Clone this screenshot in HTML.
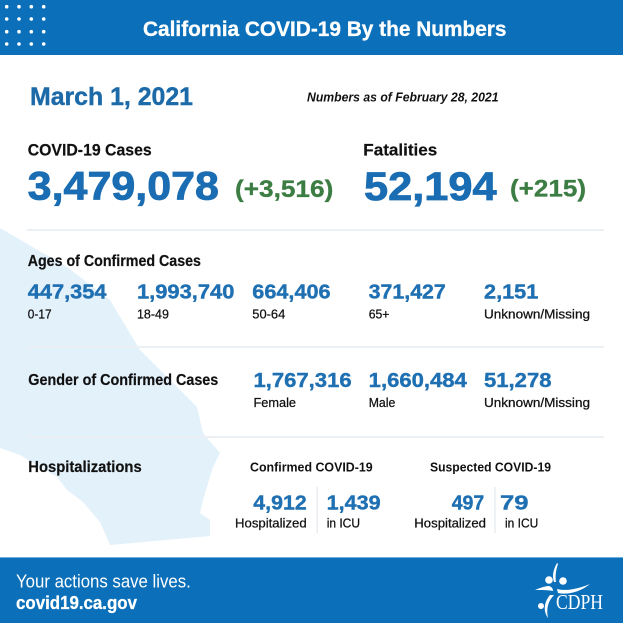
<!DOCTYPE html>
<html><head><meta charset="utf-8"><style>
html,body{margin:0;padding:0;background:#fff;}
svg{display:block;}
</style></head><body>
<svg width="623" height="623" viewBox="0 0 623 623" xmlns="http://www.w3.org/2000/svg" font-family="'Liberation Sans',sans-serif">
<rect x="0" y="0" width="623" height="623" fill="#ffffff"/>
<!-- map silhouette -->
<polygon fill="#e3f1fb" points="0,228 67,267 110,300 140,350 167,377 197,407 203,433 220,453 213,467 203,500 200,513 210,520 210,536 110,545 100,522 83,502 67,490 57,477 20,455 0,448"/>
<!-- header -->
<rect x="0" y="0" width="623" height="55" fill="#0b6fb9"/>
<g fill="#ffffff">
<circle cx="6.7" cy="6.7" r="1.8"/><circle cx="19" cy="6.7" r="1.8"/><circle cx="31.3" cy="6.7" r="1.8"/><circle cx="43.7" cy="6.7" r="1.8"/>
<circle cx="6.7" cy="19" r="1.8"/><circle cx="19" cy="19" r="1.8"/><circle cx="31.3" cy="19" r="1.8"/><circle cx="43.7" cy="19" r="1.8"/>
<circle cx="6.7" cy="31.7" r="1.8"/><circle cx="19" cy="31.7" r="1.8"/><circle cx="31.3" cy="31.7" r="1.8"/><circle cx="43.7" cy="31.7" r="1.8"/>
<circle cx="6.7" cy="44" r="1.8"/><circle cx="19" cy="44" r="1.8"/><circle cx="31.3" cy="44" r="1.8"/><circle cx="43.7" cy="44" r="1.8"/>
</g>
<text x="143" y="36" font-size="21" font-weight="bold" fill="#ffffff" stroke="#ffffff" stroke-width="0.3" textLength="363.5" lengthAdjust="spacingAndGlyphs">California COVID-19 By the Numbers</text>

<!-- date -->
<text x="30" y="105" font-size="25" font-weight="bold" fill="#1c6aa8" stroke="#1c6aa8" stroke-width="0.4" textLength="163" lengthAdjust="spacingAndGlyphs">March 1, 2021</text>
<text x="307" y="101.7" font-size="12.6" font-weight="bold" font-style="italic" fill="#111" textLength="191.5" lengthAdjust="spacingAndGlyphs">Numbers as of February 28, 2021</text>

<!-- cases / fatalities -->
<text x="27.7" y="155.7" font-size="17" font-weight="bold" fill="#111" stroke="#111" stroke-width="0.2" textLength="124" lengthAdjust="spacingAndGlyphs">COVID-19 Cases</text>
<text x="27.7" y="199.5" font-size="39.5" font-weight="bold" fill="#1a6db2" stroke="#1a6db2" stroke-width="0.8" textLength="191.3" lengthAdjust="spacingAndGlyphs">3,479,078</text>
<text x="235" y="197" font-size="24.5" font-weight="bold" fill="#3b7d43" stroke="#3b7d43" stroke-width="0.3" textLength="98.3" lengthAdjust="spacingAndGlyphs">(+3,516)</text>
<text x="363.3" y="155.7" font-size="17" font-weight="bold" fill="#111" stroke="#111" stroke-width="0.2" textLength="74" lengthAdjust="spacingAndGlyphs">Fatalities</text>
<text x="364" y="200" font-size="39.5" font-weight="bold" fill="#1a6db2" stroke="#1a6db2" stroke-width="0.8" textLength="132.7" lengthAdjust="spacingAndGlyphs">52,194</text>
<text x="510" y="196.5" font-size="24.5" font-weight="bold" fill="#3b7d43" stroke="#3b7d43" stroke-width="0.3" textLength="76" lengthAdjust="spacingAndGlyphs">(+215)</text>

<!-- separators -->
<g stroke="#ebf0f4" stroke-width="2">
<line x1="27" y1="230" x2="604" y2="230"/>
<line x1="27" y1="347" x2="604" y2="347"/>
<line x1="27" y1="437" x2="604" y2="437"/>
</g>

<!-- ages -->
<text x="27.7" y="266" font-size="16" font-weight="bold" fill="#111" stroke="#111" stroke-width="0.2" textLength="173.3" lengthAdjust="spacingAndGlyphs">Ages of Confirmed Cases</text>
<g font-size="20" font-weight="bold" fill="#1f70b2" stroke="#1f70b2" stroke-width="0.4">
<text x="27.8" y="298.5" textLength="78.7" lengthAdjust="spacingAndGlyphs">447,354</text>
<text x="137" y="298.5" textLength="97.4" lengthAdjust="spacingAndGlyphs">1,993,740</text>
<text x="252.3" y="298.5" textLength="78.3" lengthAdjust="spacingAndGlyphs">664,406</text>
<text x="368.7" y="298.5" textLength="77.1" lengthAdjust="spacingAndGlyphs">371,427</text>
<text x="484" y="298.5" textLength="54.3" lengthAdjust="spacingAndGlyphs">2,151</text>
</g>
<g font-size="12.5" fill="#111" stroke="#111" stroke-width="0.25">
<text x="27.8" y="318.3" textLength="23.8" lengthAdjust="spacingAndGlyphs">0-17</text>
<text x="137" y="318.3" textLength="31.9" lengthAdjust="spacingAndGlyphs">18-49</text>
<text x="252.3" y="318.3" textLength="33" lengthAdjust="spacingAndGlyphs">50-64</text>
<text x="368.7" y="318.3" textLength="20.7" lengthAdjust="spacingAndGlyphs">65+</text>
<text x="484" y="318.3" textLength="106" lengthAdjust="spacingAndGlyphs">Unknown/Missing</text>
</g>

<!-- gender -->
<text x="28.3" y="385" font-size="16" font-weight="bold" fill="#111" stroke="#111" stroke-width="0.2" textLength="190" lengthAdjust="spacingAndGlyphs">Gender of Confirmed Cases</text>
<g font-size="20" font-weight="bold" fill="#1f70b2" stroke="#1f70b2" stroke-width="0.4">
<text x="253.5" y="387" textLength="98.1" lengthAdjust="spacingAndGlyphs">1,767,316</text>
<text x="368.7" y="387" textLength="98.1" lengthAdjust="spacingAndGlyphs">1,660,484</text>
<text x="484" y="387" textLength="67.5" lengthAdjust="spacingAndGlyphs">51,278</text>
</g>
<g font-size="12.5" fill="#111" stroke="#111" stroke-width="0.25">
<text x="253.5" y="407" textLength="42.5" lengthAdjust="spacingAndGlyphs">Female</text>
<text x="368.7" y="407" textLength="26.6" lengthAdjust="spacingAndGlyphs">Male</text>
<text x="484" y="407" textLength="106" lengthAdjust="spacingAndGlyphs">Unknown/Missing</text>
</g>

<!-- hospitalizations -->
<text x="28.3" y="472" font-size="16" font-weight="bold" fill="#111" stroke="#111" stroke-width="0.2" textLength="113.4" lengthAdjust="spacingAndGlyphs">Hospitalizations</text>
<g font-size="12.6" font-weight="bold" fill="#111">
<text x="250" y="471.7" textLength="122.7" lengthAdjust="spacingAndGlyphs">Confirmed COVID-19</text>
<text x="430" y="471.7" textLength="121" lengthAdjust="spacingAndGlyphs">Suspected COVID-19</text>
</g>
<g font-size="20.5" font-weight="bold" fill="#1f70b2" stroke="#1f70b2" stroke-width="0.4">
<text x="253.3" y="509.3" textLength="53.4" lengthAdjust="spacingAndGlyphs">4,912</text>
<text x="326.7" y="509.3" textLength="54" lengthAdjust="spacingAndGlyphs">1,439</text>
<text x="451.7" y="509.3" textLength="32.6" lengthAdjust="spacingAndGlyphs">497</text>
<text x="500" y="509.3" textLength="28.5" lengthAdjust="spacingAndGlyphs">79</text>
</g>
<g font-size="12.6" fill="#111" stroke="#111" stroke-width="0.25">
<text x="235" y="527.3" textLength="71.7" lengthAdjust="spacingAndGlyphs">Hospitalized</text>
<text x="326.7" y="527.3" textLength="33.3" lengthAdjust="spacingAndGlyphs">in ICU</text>
<text x="414.3" y="527.3" textLength="71.7" lengthAdjust="spacingAndGlyphs">Hospitalized</text>
<text x="505" y="527.3" textLength="33.3" lengthAdjust="spacingAndGlyphs">in ICU</text>
</g>
<g stroke="#e9edf1" stroke-width="1.5">
<line x1="317.3" y1="487" x2="317.3" y2="533"/>
<line x1="495" y1="487" x2="495" y2="533"/>
</g>

<!-- footer -->
<rect x="0" y="557" width="623" height="66" fill="#0b6fb9"/>
<line x1="0" y1="557.5" x2="623" y2="557.5" stroke="#6fb0de" stroke-width="1"/>
<text x="16" y="587.7" font-size="18" fill="#ffffff" textLength="174.8" lengthAdjust="spacingAndGlyphs">Your actions save lives.</text>
<text x="16" y="609" font-size="18" font-weight="bold" fill="#ffffff" stroke="#ffffff" stroke-width="0.3" textLength="121" lengthAdjust="spacingAndGlyphs">covid19.ca.gov</text>

<!-- CDPH logo -->
<g fill="#ffffff" stroke="none">
<path d="M557,563 C553,570 552,576 554,582 L556,582 C555,576 556,570 558,564 Z"/>
<circle cx="549" cy="580" r="3.8"/>
<circle cx="563" cy="581" r="3.8"/>
<path d="M535,590 C540,588 545,586 549,586 C552,587 553,589 553,591 C548,590 542,590 535,590 Z"/>
<path d="M557,589 C565,591 575,590 590,584 C580,592 568,595 558,593 Z"/>
<path d="M554,595 C548,601 546,609 548,618 C543,611 544,602 550,595 Z"/>
<circle cx="541" cy="606" r="3"/>
</g>
<text x="556" y="609" font-family="'Liberation Serif',serif" font-size="21" fill="#ffffff" textLength="47" lengthAdjust="spacingAndGlyphs">CDPH</text>
</svg>
</body></html>
